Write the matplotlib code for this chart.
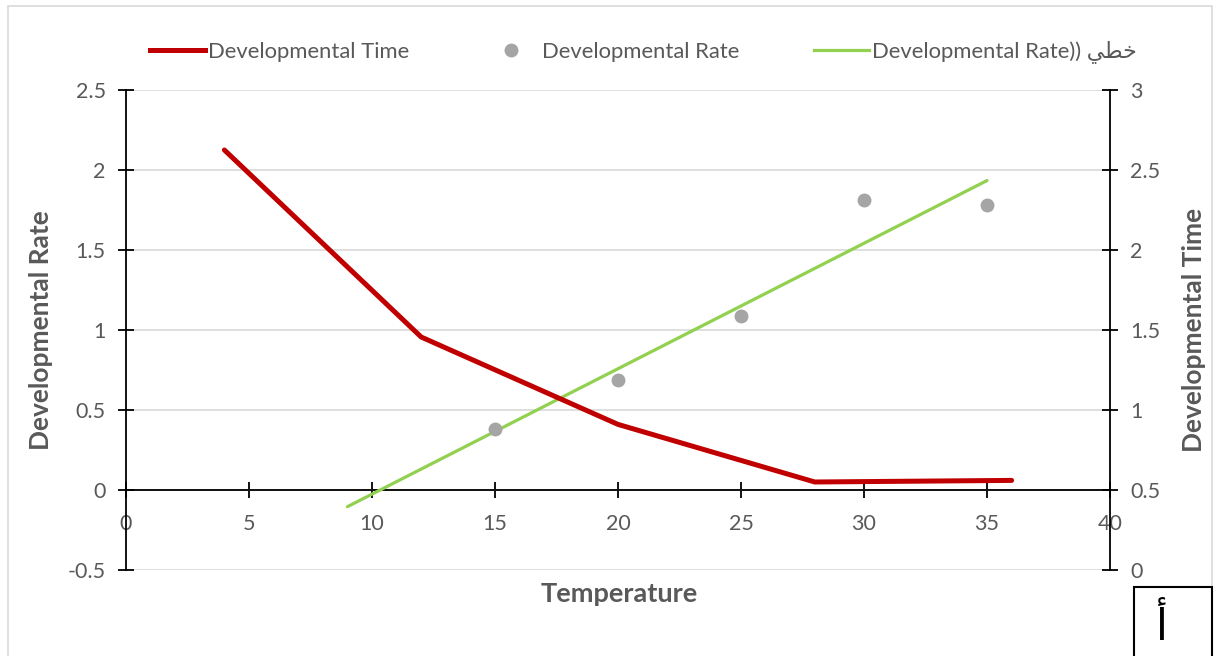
import numpy as np
import matplotlib
matplotlib.use("Agg")
from matplotlib import pyplot as plt
from matplotlib.lines import Line2D
from matplotlib.patches import Rectangle

plt.rcParams['font.family'] = ['Lato', 'DejaVu Sans']

# data
time_temp = [4, 12, 20, 28, 36]
dev_time = [2.625, 1.456, 0.91, 0.55, 0.56]      # right axis
rate_temp = [15, 20, 25, 30, 35]
dev_rate = [0.38, 0.69, 1.09, 1.81, 1.78]        # left axis
trend_span = [9, 35]                              # extent of the linear trendline

GRAY = '#595959'
RED = '#C00000'
GREEN = '#92D050'
DOT = '#A5A5A5'

fig = plt.figure(figsize=(12.16, 6.56), dpi=100)
ax = fig.add_axes([126 / 1216, 1 - 570 / 656, (1110 - 126) / 1216, (570 - 90) / 656])
ax2 = ax.twinx()

# linear trendline of the rate points
k, b = np.polyfit(rate_temp, dev_rate, 1)
tx = np.array(trend_span)
ax.plot(tx, k * tx + b, color=GREEN, lw=2.3, solid_capstyle='round', zorder=3)
ax.plot(rate_temp, dev_rate, 'o', color=DOT, ms=10, mec='none', zorder=4)
ax2.plot(time_temp, dev_time, color=RED, lw=3.6, solid_capstyle='round',
         solid_joinstyle='round', zorder=5)

ax.set_xlim(0, 40)
ax.set_ylim(-0.5, 2.5)
ax2.set_ylim(0, 3)
ax.set_xticks(np.arange(0, 41, 5))
ax.set_yticks(np.arange(-0.5, 2.51, 0.5))
ax.set_yticklabels(['-0.5', '0', '0.5', '1', '1.5', '2', '2.5'])
ax2.set_yticks(np.arange(0, 3.01, 0.5))
ax2.set_yticklabels(['0', '0.5', '1', '1.5', '2', '2.5', '3'])

ax.grid(axis='y', color='#D9D9D9', lw=1.2)
ax.set_axisbelow(True)

for a in (ax, ax2):
    a.spines['top'].set_visible(False)
ax.spines['bottom'].set_position(('data', 0))
ax2.spines['bottom'].set_visible(False)
for s in ('left', 'bottom'):
    ax.spines[s].set_color('black')
    ax.spines[s].set_linewidth(1.3)
ax.spines['right'].set_visible(False)
ax2.spines['left'].set_visible(False)
ax2.spines['right'].set_color('black')
ax2.spines['right'].set_linewidth(1.3)

ax.tick_params(axis='both', direction='inout', length=11, width=1.3, color='black',
               labelcolor=GRAY, labelsize=15.5)
ax.tick_params(axis='x', pad=12)
ax.tick_params(axis='y', pad=9)
ax2.tick_params(axis='y', direction='inout', length=11, width=1.3, color='black',
                labelcolor=GRAY, labelsize=15.5, pad=9)

ax.set_ylabel('Developmental Rate', fontsize=19, fontweight='bold', color=GRAY)
ax.yaxis.set_label_coords(-0.074, 0.5)
ax2.set_ylabel('Developmental Time', fontsize=19, fontweight='bold', color=GRAY,
               rotation=90)
ax2.yaxis.set_label_coords(1.073, 0.5)
fig.text(619 / 1216, 1 - 594 / 656, 'Temperature', ha='center', va='center',
         fontsize=19.5, fontweight='bold', color=GRAY)

# legend
handles = [Line2D([], [], color=RED, lw=3.6),
           Line2D([], [], ls='none', marker='o', color=DOT, ms=10, mec='none'),
           Line2D([], [], color=GREEN, lw=2.3)]
labels = ['Developmental Time', 'Developmental Rate', 'Developmental Rate)) \ufef2\ufec4\ufea7']
fig.legend(handles, labels, loc='center', bbox_to_anchor=(0.529, 1 - 52 / 656), ncol=3,
           frameon=False, fontsize=15.8, labelcolor=GRAY, handlelength=2.5,
           handletextpad=0.15, columnspacing=3.4)

# chart border and the letter box
fig.patches.append(Rectangle((8 / 1216, -0.01), 1204 / 1216, 1 - 6 / 656 + 0.01,
                             transform=fig.transFigure, fill=False, ec='#D9D9D9', lw=1.2))
fig.patches.append(Rectangle((1134 / 1216, -0.01), 78 / 1216, 1 - 587 / 656 + 0.01,
                             transform=fig.transFigure, fill=False, ec='black', lw=1.5))
fig.text(1162 / 1216, 1 - 626 / 656, '\u0623', ha='center', va='center', fontsize=31,
         color='black')

fig.savefig('out.png', dpi=100)
